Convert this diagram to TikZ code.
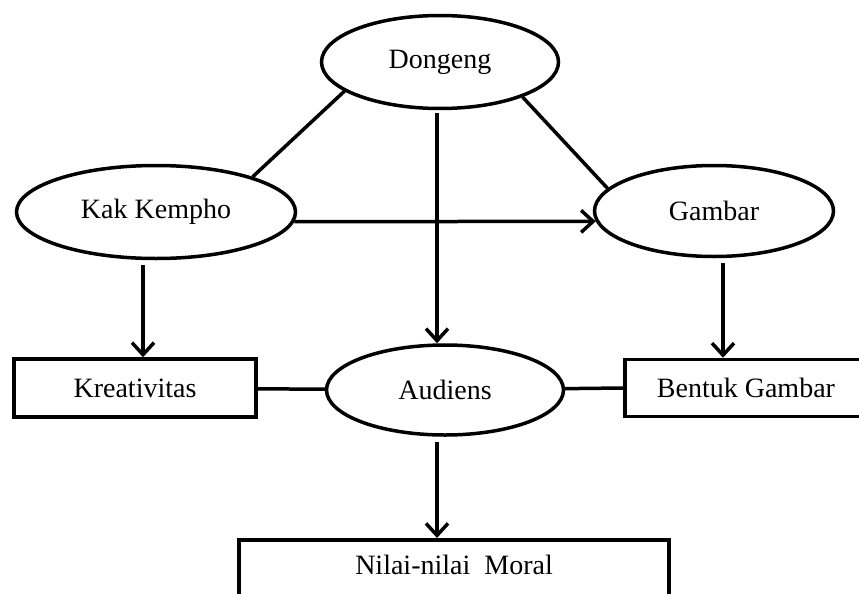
\documentclass[tikz,border=0pt]{standalone}
\usepackage{fontspec}
\setmainfont{Liberation Serif}
\usetikzlibrary{shapes.geometric,arrows.meta}

\begin{document}
\begin{tikzpicture}[x=1pt,y=-1pt,
  every node/.style={font=\fontsize{28}{32}\selectfont},
  oval/.style={draw,ellipse,line width=3.5pt,inner sep=0pt},
  kotak/.style={draw,rectangle,line width=3.5pt,inner sep=0pt},
  garis/.style={line width=3.5pt},
  panah/.style={garis,-{Straight Barb[length=12pt,width=22pt]}}]
\clip (0,0) rectangle (859,594);
% elips
\node[oval,minimum width=237pt,minimum height=93pt] (dongeng) at (440,62) {Dongeng};
\node[oval,minimum width=279pt,minimum height=93pt] (kak) at (156,212) {Kak Kempho};
\node[oval,minimum width=239pt,minimum height=91pt] (gambar) at (714,211) {Gambar};
\node[oval,minimum width=237pt,minimum height=90pt] (audiens) at (445,390) {Audiens};
% kotak
\node[kotak,minimum width=242pt,minimum height=58pt] (kreat) at (135,388) {Kreativitas};
\node[kotak,minimum width=262pt,minimum height=57pt] (bentuk) at (756,388) {\hspace*{-20pt}Bentuk Gambar};
\node[kotak,anchor=north,minimum width=430pt,inner ysep=4pt,text height=31pt,text depth=40pt]
  (nilai) at (454,538) {Nilai-nilai~ Moral};
% sumbu panah tegak
\coordinate (poros) at (437,0);
\coordinate (kiri) at (143,0);
\coordinate (kanan) at (723,0);
% garis dan panah
\draw[garis] (dongeng.197) -- (kak.20);
\draw[garis] (dongeng.-23) -- (gambar.168);
\draw[panah] (kak.-4) -- (gambar.185);
\draw[panah,shorten <=3pt] (dongeng.south -| poros) -- (audiens.north -| poros);
\draw[panah,shorten <=5pt] (kak.south -| kiri) -- (kreat.north -| kiri);
\draw[panah,shorten <=5pt] (gambar.south -| kanan) -- (bentuk.north -| kanan);
\draw[garis] (kreat) -- (audiens);
\draw[garis] (audiens) -- (bentuk.west);
\draw[panah,shorten <=5pt] (audiens.south -| poros) -- (nilai.north -| poros);
\end{tikzpicture}
\end{document}
